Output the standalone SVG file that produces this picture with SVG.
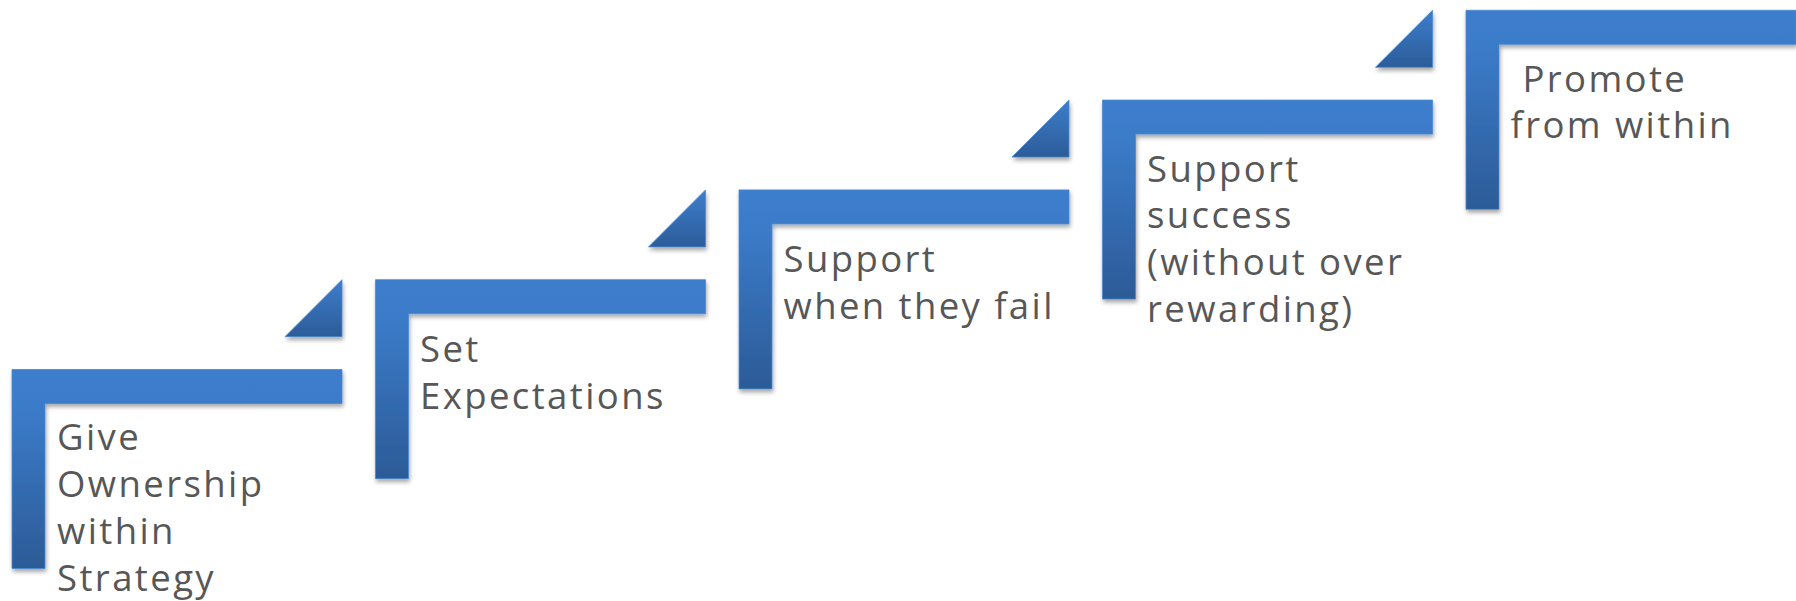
<svg xmlns="http://www.w3.org/2000/svg" width="1796" height="601" viewBox="0 0 1796 601">
<defs>
<linearGradient id="gStep" x1="0" y1="0" x2="0" y2="1">
<stop offset="0" stop-color="#3d7ecc"/>
<stop offset="0.2" stop-color="#3b7bc9"/>
<stop offset="1" stop-color="#2c5b97"/>
</linearGradient>
<linearGradient id="gTri" x1="0" y1="0" x2="0" y2="1">
<stop offset="0" stop-color="#3d7ecc"/>
<stop offset="1" stop-color="#2c5c99"/>
</linearGradient>
<filter id="sh" x="-10%" y="-10%" width="120%" height="125%">
<feDropShadow dx="1" dy="3" stdDeviation="2" flood-color="#000" flood-opacity="0.35"/>
</filter>
</defs>
<style>
.step{fill:url(#gStep);stroke:#4a89d2;stroke-width:0.8;filter:url(#sh)}
.tri{fill:url(#gTri);stroke:#4a89d2;stroke-width:0.8;filter:url(#sh)}
.lbl{font-family:"Open Sans","Noto Sans","Liberation Sans",sans-serif;font-size:36.5px;letter-spacing:2.4px;fill:#575757;white-space:pre}
</style>
<g id="connectors">
<path class="tri" d="M342,279.7 V336.7 H285 Z"/>
<path class="tri" d="M705.5,189.9 V246.9 H648.5 Z"/>
<path class="tri" d="M1069,100.1 V157.1 H1012 Z"/>
<path class="tri" d="M1432.5,10.3 V67.3 H1375.5 Z"/>
</g>
<g id="step1">
<path class="step" d="M12,369.5 H342 V403.5 H45 V568.5 H12 Z"/>
<text class="lbl" x="57" y="450">Give</text>
<text class="lbl" x="57" y="497">Ownership</text>
<text class="lbl" x="57" y="544">within</text>
<text class="lbl" x="57" y="591">Strategy</text>
</g>
<g id="step2">
<path class="step" d="M375.5,279.7 H705.5 V313.7 H408.5 V478.7 H375.5 Z"/>
<text class="lbl" x="420" y="361.5">Set</text>
<text class="lbl" x="420" y="408.5">Expectations</text>
</g>
<g id="step3">
<path class="step" d="M739,189.9 H1069 V223.9 H772 V388.9 H739 Z"/>
<text class="lbl" x="783.5" y="271.5">Support</text>
<text class="lbl" x="783.5" y="318.5">when they fail</text>
</g>
<g id="step4">
<path class="step" d="M1102.5,100.1 H1432.5 V134.1 H1135.5 V299.1 H1102.5 Z"/>
<text class="lbl" x="1147" y="181.7">Support</text>
<text class="lbl" x="1147" y="228.4">success</text>
<text class="lbl" x="1147" y="275">(without over</text>
<text class="lbl" x="1147" y="321.7">rewarding)</text>
</g>
<g id="step5">
<path class="step" d="M1466,10.3 H1796 V44.3 H1499 V209.3 H1466 Z"/>
<text class="lbl" x="1510.5" y="91.7"> Promote</text>
<text class="lbl" x="1510.5" y="138.3">from within</text>
</g>
</svg>
